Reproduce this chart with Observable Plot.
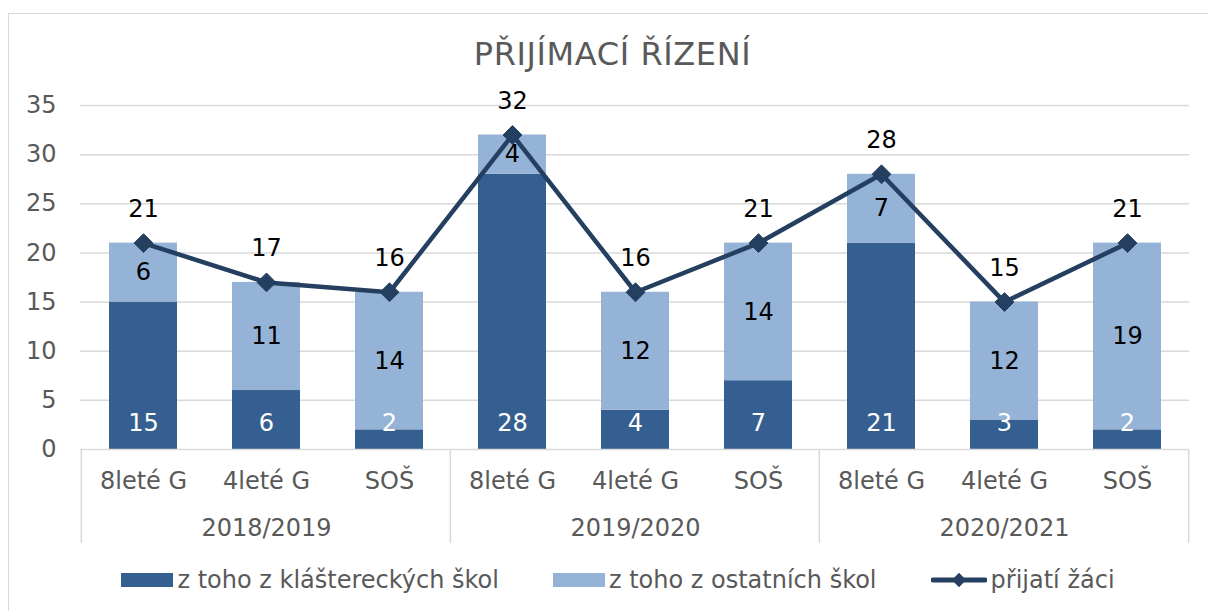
<!DOCTYPE html>
<html>
<head>
<meta charset="utf-8">
<script src="https://cdn.jsdelivr.net/npm/d3@7"></script>
<script src="https://cdn.jsdelivr.net/npm/@observablehq/plot@0.6"></script>
<style>
  html, body { margin: 0; padding: 0; background: #fff; overflow: hidden; }
  body { width: 1208px; height: 611px; position: relative; font-family: "DejaVu Sans", Verdana, sans-serif; }
  #frame { position: absolute; left: 8px; top: 13px; width: 1215px; height: 620px; border: 1.5px solid #d9d9d9; box-sizing: border-box; }
  #title { position: absolute; left: 8px; width: 1209px; top: 34px; text-align: center; font-size: 32px; color: #595959; letter-spacing: 0.6px; line-height: 40px; }
  #chart { position: absolute; left: 0; top: 80px; }
  #legend { position: absolute; left: 14px; width: 1208px; top: 565px; height: 30px; display: flex; justify-content: center; align-items: center; gap: 54px; font-size: 24px; color: #595959; }
  .item { display: flex; align-items: center; gap: 4px; }
  .sw { width: 52px; height: 14px; display: inline-block; }
</style>
</head>
<body>
<div id="frame"></div>
<div id="title">PŘIJÍMACÍ ŘÍZENÍ</div>
<div id="chart"></div>
<div id="legend"></div>
<script>
const years = ["2018/2019", "2019/2020", "2020/2021"];
const schoolTypes = ["8leté G", "4leté G", "SOŠ"];
const seriesNames = ["z toho z kláštereckých škol", "z toho z ostatních škol", "přijatí žáci"];
const fromKlasterec = [15, 6, 2, 28, 4, 7, 21, 3, 2];
const fromOther = [6, 11, 14, 4, 12, 14, 7, 12, 19];
const admitted = [21, 17, 16, 32, 16, 21, 28, 15, 21];
const yTicks = [0, 5, 10, 15, 20, 25, 30, 35];

const colors = { dark: "#365F91", light: "#95B3D7", line: "#243F60", grid: "#d9d9d9", text: "#595959" };

const keys = years.flatMap(y => schoolTypes.map(t => y + "|" + t));
const rows = keys.map((k, i) => ({
  key: k,
  year: k.split("|")[0],
  type: k.split("|")[1],
  dark: fromKlasterec[i],
  light: fromOther[i],
  total: admitted[i]
}));

const FS = 24;
const plot = Plot.plot({
  width: 1208,
  height: 475,
  marginLeft: 80,
  marginRight: 19,
  marginTop: 25,
  marginBottom: 106,
  style: { fontFamily: "DejaVu Sans, Verdana, sans-serif", fontSize: FS + "px", background: "transparent", overflow: "visible" },
  x: { domain: keys, paddingInner: 0.45, paddingOuter: 0.225, label: null },
  y: { domain: [0, 35], label: null },
  marks: [
    Plot.gridY(yTicks.filter(d => d > 0), { stroke: colors.grid, strokeOpacity: 1, strokeWidth: 1.5 }),
    Plot.axisY(yTicks, { tickSize: 0, tickPadding: 24, fill: colors.text, label: null, fontSize: FS }),
    Plot.axisX({ tickSize: 0, tickPadding: 22, fill: colors.text, label: null, tickFormat: d => d.split("|")[1], fontSize: FS }),
    Plot.barY(rows, { x: "key", y1: 0, y2: "dark", fill: colors.dark }),
    Plot.barY(rows, { x: "key", y1: "dark", y2: d => d.dark + d.light, fill: colors.light }),
    Plot.ruleY([0], { stroke: colors.grid, strokeWidth: 1.5 }),
    Plot.text(years, { x: y => y + "|" + schoolTypes[1], frameAnchor: "bottom", dy: 86, text: d => d, fill: colors.text, fontSize: FS }),
    Plot.line(rows, { x: "key", y: "total", stroke: colors.line, strokeWidth: 4.5 }),
    Plot.dot(rows, { x: "key", y: "total", symbol: "diamond2", r: 8.5, fill: colors.line, stroke: colors.line, strokeWidth: 1 }),
    Plot.text(rows, { x: "key", y: "total", text: "total", dy: -34, fill: "#000", fontSize: FS }),
    Plot.text(rows, { x: "key", y: d => d.dark + d.light / 2, text: "light", fill: "#000", fontSize: FS }),
    Plot.text(rows, { x: "key", y: 0, text: "dark", dy: -26, fill: "#fff", fontSize: FS })
  ]
});

// group separators drawn from the x band scale
const sx = plot.scale("x");
const sy = plot.scale("y");
const y0 = sy.apply(0);
const half = sx.step * sx.paddingInner / 2;
const bounds = years.map(y => sx.apply(y + "|" + schoolTypes[0]) - half);
bounds.push(sx.apply(keys[keys.length - 1]) + sx.bandwidth + half);
d3.select(plot).append("g")
  .selectAll("line").data(bounds).join("line")
  .attr("x1", d => d).attr("x2", d => d)
  .attr("y1", y0).attr("y2", y0 + 94)
  .attr("stroke", colors.grid).attr("stroke-width", 1.5);

document.getElementById("chart").append(plot);

// legend
const legend = d3.select("#legend");
[colors.dark, colors.light].forEach((c, i) => {
  const it = legend.append("div").attr("class", "item");
  it.append("span").attr("class", "sw").style("background", c);
  it.append("span").text(seriesNames[i]);
});
const it3 = legend.append("div").attr("class", "item");
const s = it3.append("svg").attr("width", 56).attr("height", 20);
s.append("line").attr("x1", 2).attr("x2", 54).attr("y1", 10).attr("y2", 10).attr("stroke", colors.line).attr("stroke-width", 5).attr("stroke-linecap", "round");
s.append("path").attr("d", d3.symbol(d3.symbolDiamond2, 130)()).attr("transform", "translate(28,10)").attr("fill", colors.line);
it3.append("span").text(seriesNames[2]);
</script>
</body>
</html>
